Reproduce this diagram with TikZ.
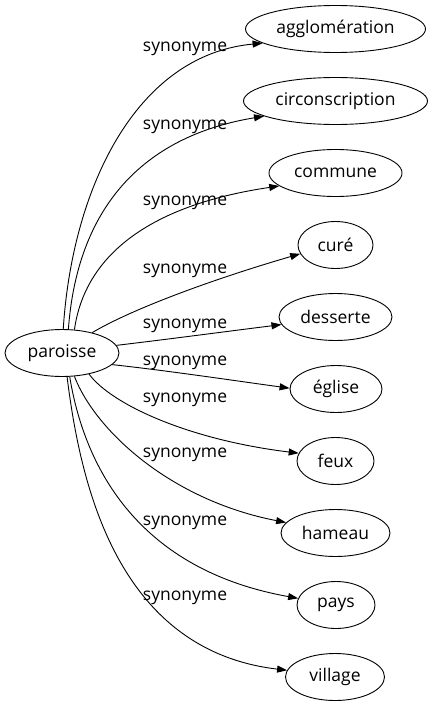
\documentclass[tikz,border=0pt]{standalone}
\usepackage{fontspec}
\setmainfont{Open Sans}
\usetikzlibrary{
	arrows.meta,
	shapes.geometric
}

\begin{document}
\begin{tikzpicture}[x=1pt, y=-1pt,
		word/.style={draw, ellipse, line width=0.9pt, inner sep=0pt, minimum height=47pt, font=\fontsize{17.5}{21}\selectfont},
		syn/.style={-{Triangle[length=10pt, width=7pt]}, line width=0.9pt},
		rel/.style={anchor=base, inner sep=0pt, font=\fontsize{17.5}{21}\selectfont}]
		\useasboundingbox (0,0) rectangle (433,707);
		\node[word, minimum width=114pt] (paroisse) at (62,353) {paroisse};
		\node[word, minimum width=180pt] (aggl) at (335.5,29) {agglomération};
		\node[word, minimum width=184pt] (circ) at (335.5,101) {circonscription};
		\node[word, minimum width=133pt] (commune) at (335.5,173) {commune};
		\node[word, minimum width=75pt] (cure) at (335.5,245) {curé};
		\node[word, minimum width=113pt] (dess) at (335.5,317) {desserte};
		\node[word, minimum width=92pt] (eglise) at (336,389) {église};
		\node[word, minimum width=77pt] (feux) at (335.5,461) {feux};
		\node[word, minimum width=109pt] (hameau) at (335.5,533) {hameau};
		\node[word, minimum width=78pt] (pays) at (336,605) {pays};
		\node[word, minimum width=99pt] (village) at (335,677) {village};
		% labels
		\foreach \y [count=\i] in {51,129,205,273,328,365,402,457,525,600}
			\node[rel] (syn\i) at (185,\y) {synonyme};
		% edges
		\draw[syn] (paroisse.87.5) .. controls (72,190) and (135,55) .. (aggl.191);
		\draw[syn] (paroisse.75) .. controls (78,200) and (150,135) .. (circ.192);
		\draw[syn] (paroisse.62) .. controls (85,255) and (150,205) .. (commune.193);
		\draw[syn] (paroisse.34) .. controls (130,310) and (210,280) .. (cure.194);
		\draw[syn] (paroisse.8) .. controls (170,339) and (230,331) .. (dess.188);
		\draw[syn] (paroisse.347) .. controls (170,371) and (230,380) .. (eglise.179);
		\draw[syn] (paroisse.322) .. controls (112,405) and (190,440) .. (feux.168);
		\draw[syn] (paroisse.298) .. controls (95,430) and (170,500) .. (hameau.168);
		\draw[syn] (paroisse.288) .. controls (85,470) and (140,570) .. (pays.170);
		\draw[syn] (paroisse.282) .. controls (80,480) and (115,650) .. (village.172);
	\end{tikzpicture}
\end{document}
